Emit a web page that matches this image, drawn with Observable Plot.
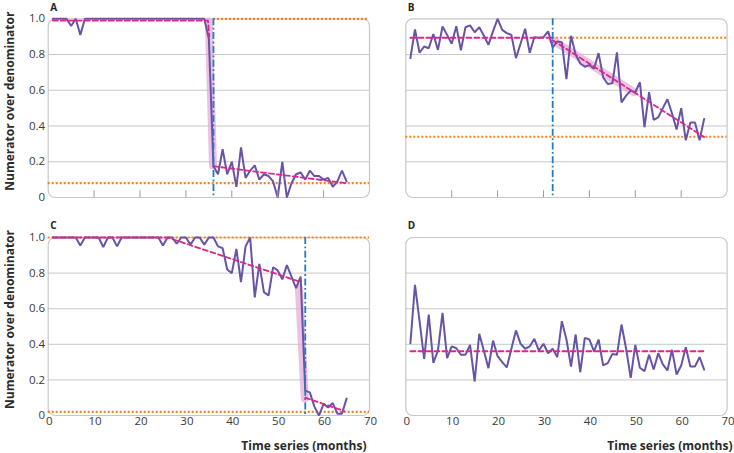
<!DOCTYPE html>
<html><head><meta charset="utf-8">
<script src="https://cdn.jsdelivr.net/npm/d3@7"></script>
<script src="https://cdn.jsdelivr.net/npm/@observablehq/plot@0.6"></script>
<style>
html,body{margin:0;padding:0;background:#fff;}
#chart{position:relative;width:734px;height:453px;overflow:hidden;background:#fff;}
#chart svg{position:absolute;background:none;}
</style></head><body><div id="chart"></div>
<script>
// ---- data ----
const months = d3.range(1, 66);
const xTicks = [0, 10, 20, 30, 40, 50, 60, 70];
const innerTicks = [10, 20, 30, 40, 50, 60];
const yTicks = [0, 0.2, 0.4, 0.6, 0.8, 1.0];
const gridTicks = [0.2, 0.4, 0.6, 0.8];
const yTitle = "Numerator over denominator";
const xTitle = "Time series (months)";

const seriesA = [1,1,1,1,0.96,1,0.91,
  1,1,1,1,1,1,1,1,1,
  1,1,1,1,1,1,1,1,1,
  1,1,1,1,1,1,1,1,1,
  0.89,0.175,
  0.13,0.27,0.13,0.20,0.06,0.28,0.11,0.15,0.18,0.10,0.13,0.12,0.09,0.0,0.20,0.0,
  0.08,0.13,0.14,0.10,0.15,0.12,0.12,0.10,0.11,0.06,0.09,0.15,0.09];
const seriesB = [0.78,0.94,0.81,0.845,0.835,0.915,0.826,0.957,0.91,0.86,
  0.959,0.823,0.953,0.963,0.925,0.953,0.907,0.854,0.93,1.0,
  0.938,0.92,0.91,0.78,0.86,0.944,0.81,0.897,0.894,0.897,
  0.93,0.84,0.873,0.868,0.663,0.905,0.80,0.75,0.732,0.741,
  0.72,0.808,0.672,0.635,0.639,0.812,0.532,0.57,0.598,0.589,
  0.645,0.393,0.589,0.434,0.449,0.50,0.55,0.47,0.38,0.50,
  0.32,0.42,0.42,0.32,0.44];
const seriesC = [1,1,1,1,1,1,0.955,1,1,1,1,0.946,1,1,0.95,
  1,1,1,1,1,1,1,1,1,
  0.955,1,1,0.965,1,1,0.96,1,1,0.96,1,1,0.95,0.94,0.82,0.80,
  0.936,0.75,0.95,1.0,0.664,0.852,0.693,0.674,0.833,0.815,
  0.765,0.845,0.78,0.715,0.78,0.14,0.13,0.05,0.0,0.065,
  0.045,0.07,0.01,0.01,0.095];
const seriesD = [0.406,0.734,0.53,0.318,0.567,0.296,0.365,0.577,0.322,0.388,
  0.378,0.341,0.341,0.397,0.191,0.459,0.365,0.266,0.421,0.333,
  0.30,0.27,0.375,0.478,0.403,0.375,0.388,0.431,0.365,0.403,
  0.35,0.375,0.328,0.53,0.427,0.275,0.455,0.243,0.436,0.427,
  0.36,0.427,0.281,0.294,0.346,0.341,0.511,0.375,0.212,0.397,
  0.268,0.249,0.341,0.258,0.35,0.287,0.253,0.369,0.23,0.281,
  0.384,0.275,0.275,0.328,0.258];

// fitted segments [month, value]
const trendA = [[[1,0.99],[34.8,0.99],[35.1,0.90]], [[36,0.175],[65,0.08]]];
const trendB = [[[1,0.894],[32,0.894]], [[32,0.88],[65,0.338]]];
const trendC = [[[1,1.0],[26,1.0],[55,0.75]], [[56,0.10],[64.5,0.025]]];
const trendD = [[[1,0.361],[65,0.361]]];
// shaded change bands
const bandA = [[35.0,0.985],[35.9,0.18]];
const bandB = [[32,0.88],[49.7,0.59]];
const bandC = [[54.6,0.72],[55.9,0.095]];
const bandD = [];
// intervention months
const intervA = [36], intervB = [32], intervC = [56], intervD = [];
// reference levels [level, from month, to month]
const refA = [[1.0,36,70],[0.08,0,70]];
const refB = [[0.894,32,70],[0.34,0,70]];
const refC = [[1.0,0,70],[0.02,0,70]];
const refD = [];

// ---- drawing ----
const PURPLE = "#6953a6", MAGENTA = "#d8288e", ORANGE = "#f28322", BLUE = "#1f7ccb", PINK = "#e6a6d4", GRID = "#c8c8c8";
const FONT = "'Open Sans', 'Noto Sans', sans-serif";
const chart = document.getElementById("chart");

function panel(cfg) {
  const {series, trend, band, interv, ref, letter, leftCol, topRow} = cfg;
  const left = leftCol ? 0 : 366, width = leftCol ? 373 : 368;
  const marginLeft = leftCol ? 47.7 : 39.3, marginRight = leftCol ? 4 : 7.4;
  const top = topRow ? 0 : 219, height = topRow ? 200 : 234;
  const marginTop = topRow ? 18.3 : 18, marginBottom = topRow ? 3 : 38;
  const data = months.map((m, i) => ({m, v: series[i]}));
  const marks = [
    Plot.gridY(gridTicks, {stroke: GRID, strokeOpacity: 1, strokeWidth: 1}),
    Plot.frame({stroke: GRID, strokeWidth: 1.2, rx: 7}),
    Plot.ruleY(ref, {y: d => d[0], x1: d => d[1], x2: d => d[2], stroke: ORANGE, strokeWidth: 2.2, strokeDasharray: "2,2"}),
  ];
  if (band.length) marks.push(Plot.line(band, {x: d => d[0], y: d => d[1], stroke: PINK, strokeWidth: 8, strokeOpacity: 0.7, strokeLinecap: "round"}));
  marks.push(Plot.line(data, {x: "m", y: "v", stroke: PURPLE, strokeWidth: 2, strokeLinejoin: "miter"}));
  for (const seg of trend) marks.push(Plot.line(seg, {x: d => d[0], y: d => d[1], stroke: MAGENTA, strokeWidth: 1.8, strokeDasharray: "5,3"}));
  marks.push(Plot.ruleX(interv, {x: d => d, stroke: BLUE, strokeWidth: 1.8, strokeDasharray: "7,2.5,1.8,2.5"}));
  if (topRow) marks.push(Plot.tickX(innerTicks, {x: d => d, stroke: "#9a9a9a", strokeWidth: 1, insetTop: 172}));
  else {
    marks.push(Plot.axisX({ticks: xTicks, tickSize: 0, tickPadding: 1.5, dx: 1, tickFormat: d => String(d), label: null, fontSize: 11.5, fill: "#3a3a3a"}));
    marks.push(Plot.text([xTitle], {frameAnchor: "bottom-right", text: d => d, textAnchor: "end", lineAnchor: "top", dy: 26, dx: leftCol ? -3 : 5.4, fontWeight: "bold", fontSize: 12, fill: "#2a2a2a"}));
  }
  if (leftCol) {
    marks.push(Plot.axisY({ticks: yTicks, tickSize: 0, tickPadding: 3, tickFormat: d => d === 0 ? "0" : d.toFixed(1), label: null, fontSize: 11.5, fill: "#3a3a3a"}));
    marks.push(Plot.text([yTitle], {frameAnchor: "left", text: d => d, rotate: -90, textAnchor: "middle", lineAnchor: "middle", dx: -38.5, dy: -7, fontWeight: "bold", fontSize: 12, fill: "#2a2a2a"}));
  }
  marks.push(Plot.text([letter], {frameAnchor: "top-left", text: d => d, textAnchor: "start", lineAnchor: "top", dx: 2, dy: -15.3, fontWeight: "bold", fontSize: 10, fill: "#222"}));
  const p = Plot.plot({
    width, height, marginLeft, marginRight, marginTop, marginBottom,
    x: {domain: [0, 70], axis: topRow ? null : undefined, label: null},
    y: {domain: [0, 1], axis: leftCol ? undefined : null, label: null},
    style: {fontFamily: FONT, fontSize: "11.5px", color: "#333", background: "none", overflow: "visible"},
    marks
  });
  p.style.left = left + "px";
  p.style.top = top + "px";
  chart.appendChild(p);
}

panel({series: seriesA, trend: trendA, band: bandA, interv: intervA, ref: refA, letter: "A", leftCol: true, topRow: true});
panel({series: seriesB, trend: trendB, band: bandB, interv: intervB, ref: refB, letter: "B", leftCol: false, topRow: true});
panel({series: seriesC, trend: trendC, band: bandC, interv: intervC, ref: refC, letter: "C", leftCol: true, topRow: false});
panel({series: seriesD, trend: trendD, band: bandD, interv: intervD, ref: refD, letter: "D", leftCol: false, topRow: false});
</script></body></html>
